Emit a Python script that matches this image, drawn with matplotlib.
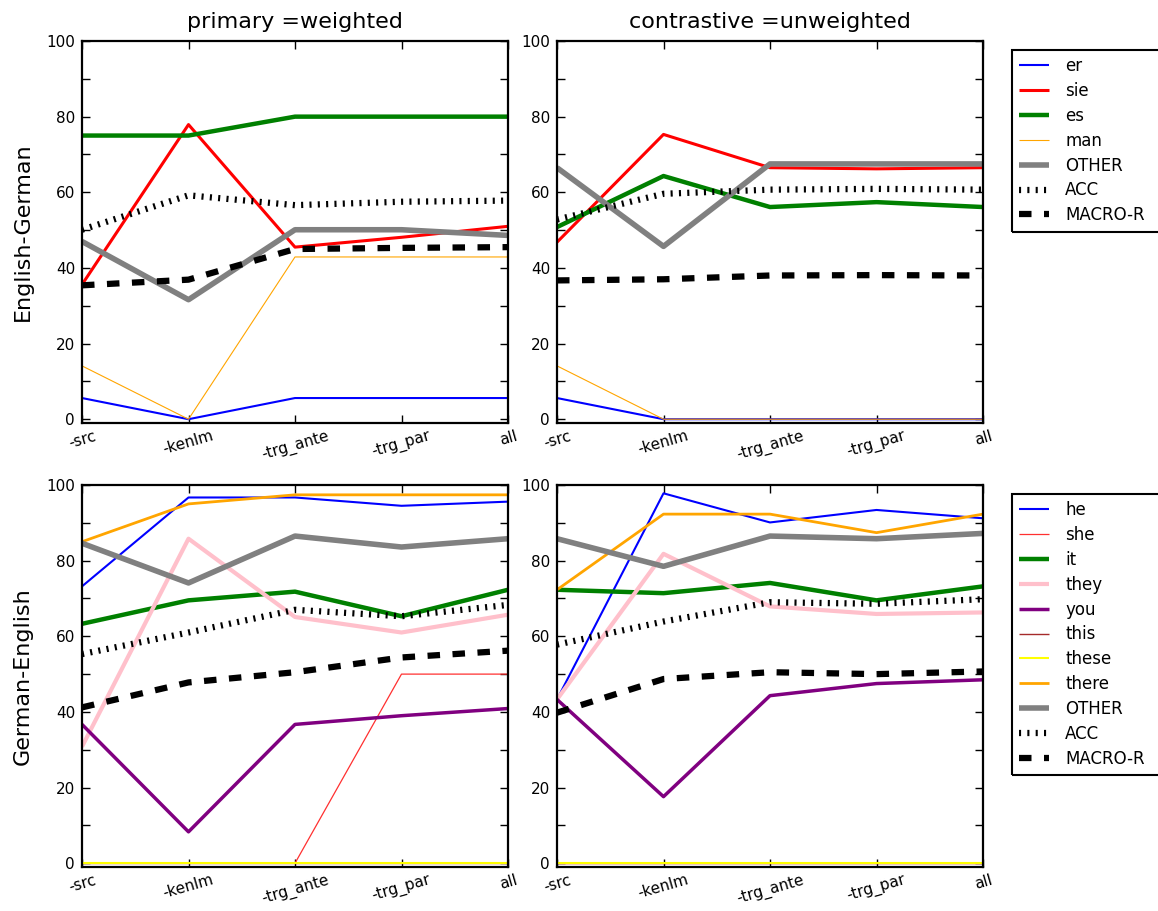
import numpy as np
import matplotlib
matplotlib.use("Agg")
import matplotlib.pyplot as plt
from matplotlib.patches import Rectangle

plt.rcParams["lines.scale_dashes"] = False

conditions = ["-src", "-kenlm", "-trg_ante", "-trg_par", "all"]
col_titles = ["primary =weighted", "contrastive =unweighted"]
row_labels = ["English-German", "German-English"]

# English-German, primary (weighted)
eg_w_er = [5.6, 0.0, 5.6, 5.6, 5.6]
eg_w_sie = [35.6, 77.9, 45.5, 48.1, 51.0]
eg_w_es = [75.0, 75.0, 80.0, 80.0, 80.0]
eg_w_man = [14.1, 0.0, 42.9, 42.9, 42.9]
eg_w_other = [47.0, 31.6, 50.1, 50.1, 48.6]
eg_w_acc = [50.1, 59.2, 56.6, 57.5, 57.8]
eg_w_macro = [35.4, 36.9, 45.0, 45.3, 45.5]

# English-German, contrastive (unweighted)
eg_u_er = [5.6, 0.0, 0.0, 0.0, 0.0]
eg_u_sie = [46.8, 75.3, 66.5, 66.2, 66.5]
eg_u_es = [50.8, 64.3, 56.1, 57.4, 56.1]
eg_u_man = [14.1, 0.0, 0.0, 0.0, 0.0]
eg_u_other = [66.5, 45.7, 67.5, 67.5, 67.5]
eg_u_acc = [52.8, 59.6, 60.7, 60.9, 60.7]
eg_u_macro = [36.7, 37.0, 38.0, 38.1, 38.0]

# German-English, primary (weighted)
ge_w_he = [73.2, 96.7, 96.7, 94.5, 95.6]
ge_w_she = [0.0, 0.0, 0.0, 50.0, 50.0]
ge_w_it = [63.3, 69.5, 71.8, 65.3, 72.3]
ge_w_they = [30.8, 85.8, 65.1, 61.0, 65.7]
ge_w_you = [36.7, 8.3, 36.7, 39.0, 40.9]
ge_w_this = [0.0, 0.0, 0.0, 0.0, 0.0]
ge_w_these = [0.0, 0.0, 0.0, 0.0, 0.0]
ge_w_there = [85.0, 95.0, 97.4, 97.4, 97.4]
ge_w_other = [84.6, 74.1, 86.5, 83.6, 85.8]
ge_w_acc = [55.3, 61.0, 67.0, 65.3, 68.3]
ge_w_macro = [41.2, 47.8, 50.5, 54.4, 56.2]

# German-English, contrastive (unweighted)
ge_u_he = [43.3, 97.8, 90.1, 93.4, 91.2]
ge_u_she = [0.0, 0.0, 0.0, 0.0, 0.0]
ge_u_it = [72.3, 71.4, 74.1, 69.5, 73.2]
ge_u_they = [43.3, 81.8, 67.9, 65.9, 66.3]
ge_u_you = [43.3, 17.6, 44.3, 47.5, 48.5]
ge_u_this = [0.0, 0.0, 0.0, 0.0, 0.0]
ge_u_these = [0.0, 0.0, 0.0, 0.0, 0.0]
ge_u_there = [72.3, 92.3, 92.3, 87.4, 92.3]
ge_u_other = [85.8, 78.5, 86.5, 85.8, 87.2]
ge_u_acc = [57.8, 63.9, 69.0, 68.6, 69.8]
ge_u_macro = [39.8, 48.7, 50.5, 50.0, 50.7]

eg_names = ["er", "sie", "es", "man", "OTHER", "ACC", "MACRO-R"]
ge_names = ["he", "she", "it", "they", "you", "this", "these", "there", "OTHER", "ACC", "MACRO-R"]

styles = {
    "er": dict(color="#0000ff", lw=1.5),
    "sie": dict(color="#ff0000", lw=2.2),
    "es": dict(color="#008000", lw=3.2),
    "man": dict(color="#ffa500", lw=0.8),
    "he": dict(color="#0000ff", lw=1.5),
    "she": dict(color="#ff3030", lw=0.9),
    "it": dict(color="#008000", lw=3.2),
    "they": dict(color="#ffc0cb", lw=3.0),
    "you": dict(color="#800080", lw=2.5),
    "this": dict(color="#a52a2a", lw=1.0),
    "these": dict(color="#ffff00", lw=1.5),
    "there": dict(color="#ffa500", lw=2.0),
    "OTHER": dict(color="#808080", lw=4.0),
    "ACC": dict(color="black", lw=4.5, dashes=(1.5, 4.5)),
    "MACRO-R": dict(color="black", lw=4.5, dashes=(9, 9)),
}

panels = [
    [(eg_names, [eg_w_er, eg_w_sie, eg_w_es, eg_w_man, eg_w_other, eg_w_acc, eg_w_macro]),
     (eg_names, [eg_u_er, eg_u_sie, eg_u_es, eg_u_man, eg_u_other, eg_u_acc, eg_u_macro])],
    [(ge_names, [ge_w_he, ge_w_she, ge_w_it, ge_w_they, ge_w_you, ge_w_this, ge_w_these,
                 ge_w_there, ge_w_other, ge_w_acc, ge_w_macro]),
     (ge_names, [ge_u_he, ge_u_she, ge_u_it, ge_u_they, ge_u_you, ge_u_this, ge_u_these,
                 ge_u_there, ge_u_other, ge_u_acc, ge_u_macro])],
]

W, H = 1158, 911
fig = plt.figure(figsize=(W / 100, H / 100), dpi=100, facecolor="white")

lefts = [82, 557]
tops = [41, 485]
aw, ah = 426, 382

legends = []
x = np.arange(len(conditions))
for r in range(2):
    for c in range(2):
        ax = fig.add_axes([lefts[c] / W, 1 - (tops[r] + ah) / H, aw / W, ah / H])
        names, series = panels[r][c]
        for name, vals in zip(names, series):
            ax.plot(x, vals, label=name, solid_capstyle="butt", **styles[name])
        ax.set_xlim(0, len(conditions) - 1)
        ax.set_ylim(-1, 100)
        ax.set_xticks(x)
        ax.set_xticklabels(conditions, rotation=16, fontsize=11)
        yt = np.arange(0, 101, 10)
        ax.set_yticks(yt)
        ax.set_yticklabels([str(v) if v % 20 == 0 else "" for v in yt], fontsize=11)
        ax.tick_params(axis="y", direction="in", right=True, length=6, width=1, pad=5)
        ax.tick_params(axis="x", direction="in", top=True, length=6, width=1, pad=4)
        for sp in ax.spines.values():
            sp.set_linewidth(1.6)
        if r == 0:
            ax.set_title(col_titles[c], fontsize=16, pad=9)
        if c == 0:
            ax.set_ylabel(row_labels[r], fontsize=16)
            ax.yaxis.set_label_coords(-0.115, 0.5)
        else:
            leg = ax.legend(loc="upper left", bbox_to_anchor=(1.068, 0.977), borderaxespad=0,
                            fontsize=12, fancybox=False, framealpha=1, edgecolor="black",
                            handlelength=1.75, handletextpad=1.0, labelspacing=0.41,
                            borderpad=0.45)
            leg.get_frame().set_visible(False)
            legends.append(leg)

# legend frames extend past the right edge of the figure, as in the original
fig.canvas.draw()
for leg in legends:
    bb = leg.get_window_extent()
    fig.patches.append(Rectangle((bb.x0 / W, bb.y0 / H), (bb.width + 40) / W, bb.height / H,
                                 transform=fig.transFigure, fill=False, edgecolor="black",
                                 linewidth=1.5, zorder=5))

fig.savefig("out.png", dpi=100, facecolor="white")
